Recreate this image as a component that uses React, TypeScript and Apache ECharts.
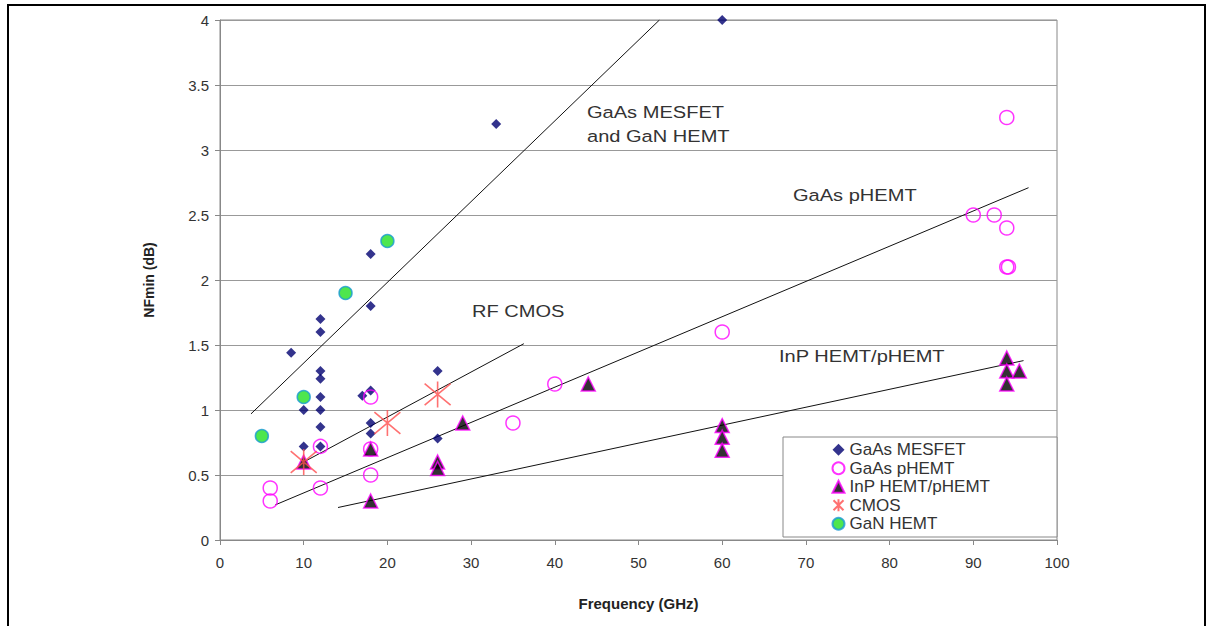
import React, { useEffect, useRef } from "react";
import * as echarts from "echarts";

// ---- data (frequency GHz, NFmin dB) ----
const gaasMesfet: number[][] = [
  [60, 4.0], [33, 3.2], [18, 2.2], [18, 1.8], [8.5, 1.44], [12, 1.7], [12, 1.6],
  [12, 1.3], [12, 1.24], [12, 1.1], [12, 1.0], [12, 0.87], [12, 0.72], [10, 1.0],
  [10, 0.72], [17, 1.11], [18, 1.15], [18, 0.9], [18, 0.82], [26, 1.3], [26, 0.78],
];
const gaasPhemt: number[][] = [
  [6, 0.4], [6, 0.3], [12, 0.4], [12, 0.72], [18, 1.1], [18, 0.7], [18, 0.5],
  [35, 0.9], [40, 1.2], [60, 1.6], [90, 2.5], [92.5, 2.5], [94, 2.4], [94, 2.1],
  [94.2, 2.1], [94, 3.25],
];
const inpHemt: number[][] = [
  [10, 0.6], [18, 0.7], [18, 0.3], [26, 0.6], [26, 0.55], [29, 0.9], [44, 1.2],
  [60, 0.88], [60, 0.79], [60, 0.69], [94, 1.4], [94, 1.3], [95.5, 1.3], [94, 1.2],
];
const cmos: number[][] = [[10, 0.6], [20, 0.9], [26, 1.12]];
const ganHemt: number[][] = [[5, 0.8], [10, 1.1], [15, 1.9], [20, 2.3]];

// trend lines (end points)
const mesfetTrend: number[][] = [[3.7, 0.97], [52.5, 4.0]];
const cmosTrend: number[][] = [[10, 0.6], [36.3, 1.51]];
const phemtTrend: number[][] = [[6.6, 0.27], [96.6, 2.71]];
const inpTrend: number[][] = [[14.1, 0.25], [96, 1.38]];

const seriesNames = ["GaAs MESFET", "GaAs pHEMT", "InP HEMT/pHEMT", "CMOS", "GaN HEMT"];
const annotationTexts = ["GaAs MESFET", "and GaN HEMT", "GaAs pHEMT", "RF CMOS", "InP HEMT/pHEMT"];

const FONT = "'Liberation Sans', Arial, sans-serif";

export default function App() {
  const ref = useRef<HTMLDivElement>(null);
  useEffect(() => {
    const chart = echarts.init(ref.current!, null, { renderer: "svg" });
    const annPos = [
      [587, 112],
      [587, 136],
      [793, 195],
      [472, 311],
      [779, 356],
    ];
    const lineSeries = (name: string, data: number[][]) => ({
      name,
      type: "line",
      data,
      showSymbol: false,
      symbol: "none",
      silent: true,
      lineStyle: { color: "#111", width: 1 },
      z: 3,
    });
    chart.setOption({
      animation: false,
      backgroundColor: "#fff",
      textStyle: { fontFamily: FONT },
      grid: {
        left: 220,
        right: 150,
        top: 20,
        bottom: 86,
        show: true,
        borderColor: "#888",
        borderWidth: 1,
      },
      xAxis: {
        type: "value",
        min: 0,
        max: 100,
        interval: 10,
        name: "Frequency (GHz)",
        nameLocation: "middle",
        nameGap: 56,
        nameTextStyle: { fontWeight: "bold", fontSize: 15, color: "#222", fontFamily: FONT },
        axisLine: { lineStyle: { color: "#888" } },
        axisTick: { show: true, inside: false, length: 5, lineStyle: { color: "#888" } },
        axisLabel: { color: "#333", fontSize: 15, margin: 15, fontFamily: FONT },
        splitLine: { show: false },
      },
      yAxis: {
        type: "value",
        min: 0,
        max: 4,
        interval: 0.5,
        name: "NFmin (dB)",
        nameLocation: "middle",
        nameGap: 64,
        nameTextStyle: { fontWeight: "bold", fontSize: 14, color: "#222", fontFamily: FONT },
        axisLine: { show: true, lineStyle: { color: "#888" } },
        axisTick: { show: true, inside: false, length: 5, lineStyle: { color: "#888" } },
        axisLabel: { color: "#333", fontSize: 15, margin: 11, fontFamily: FONT },
        splitLine: { show: true, lineStyle: { color: "#999", width: 1 } },
      },
      legend: {
        data: seriesNames,
        orient: "vertical",
        left: 831,
        top: 441,
        padding: 0,
        itemWidth: 12,
        itemHeight: 12,
        itemGap: 1,
        textStyle: { fontSize: 17, color: "#333", fontFamily: FONT, lineHeight: 17.5 },
        z: 6,
      },
      graphic: [
        {
          type: "rect",
          z: 5,
          silent: true,
          shape: { x: 783, y: 437, width: 274, height: 100 },
          style: { fill: "#fff", stroke: "#888", lineWidth: 1 },
        },
        ...annotationTexts.map((t, i) => ({
          type: "text",
          x: annPos[i][0],
          y: annPos[i][1],
          scaleX: 1.18,
          z: 5,
          silent: true,
          style: {
            text: t,
            fontSize: 17,
            fontFamily: FONT,
            fill: "#333",
            textAlign: "left",
            textVerticalAlign: "middle",
          },
        })),
        {
          type: "rect",
          z: 10,
          silent: true,
          shape: { x: 8, y: 5, width: 1197, height: 700 },
          style: { fill: "none", stroke: "#000", lineWidth: 2 },
        },
      ],
      series: [
        lineSeries("mesfet-trend", mesfetTrend),
        lineSeries("cmos-trend", cmosTrend),
        lineSeries("phemt-trend", phemtTrend),
        lineSeries("inp-trend", inpTrend),
        {
          name: "GaAs MESFET",
          type: "scatter",
          data: gaasMesfet,
          symbol: "diamond",
          symbolSize: 10,
          itemStyle: { color: "#000070" },
          z: 4,
        },
        {
          name: "GaAs pHEMT",
          type: "scatter",
          data: gaasPhemt,
          symbol: "circle",
          symbolSize: 14,
          itemStyle: { color: "rgba(255,255,255,0)", borderColor: "#ff00ff", borderWidth: 1.5 },
          z: 4,
        },
        {
          name: "InP HEMT/pHEMT",
          type: "scatter",
          data: inpHemt,
          symbol: "triangle",
          symbolSize: 14,
          itemStyle: { color: "#000", borderColor: "#ff00ff", borderWidth: 1.5 },
          z: 4,
        },
        {
          name: "CMOS",
          type: "scatter",
          data: cmos,
          symbol: "path://M0,0L10,10M10,0L0,10M5,-1L5,11",
          symbolSize: 26,
          itemStyle: { color: "none", borderColor: "#ff4d4d", borderWidth: 1.6 },
          z: 5,
        },
        {
          name: "GaN HEMT",
          type: "scatter",
          data: ganHemt,
          symbol: "circle",
          symbolSize: 13,
          itemStyle: { color: "#22e022", borderColor: "#1a9ad6", borderWidth: 1.5 },
          z: 4,
        },
      ],
    });
    return () => chart.dispose();
  }, []);
  return (
    <div
      ref={ref}
      style={{ position: "fixed", left: 0, top: 0, width: 1207, height: 626, background: "#fff" }}
    />
  );
}
